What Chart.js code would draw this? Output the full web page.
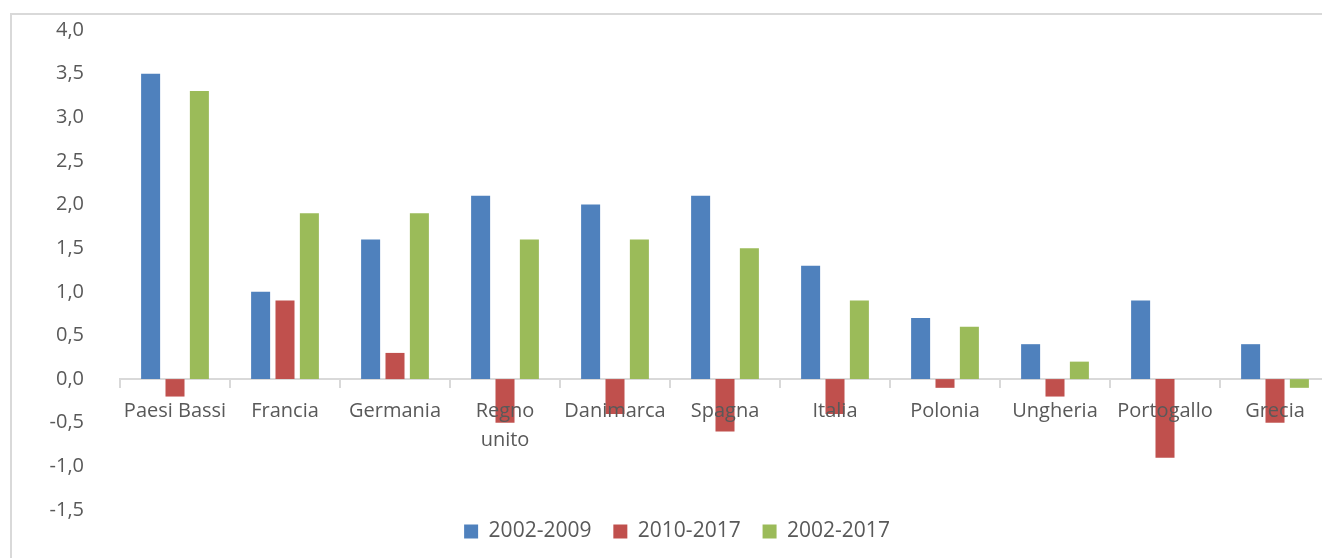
<!DOCTYPE html>
<html>
<head>
<meta charset="utf-8">
<script src="https://cdn.jsdelivr.net/npm/chart.js@4.4.1/dist/chart.umd.min.js"></script>
<style>
  html, body { margin: 0; padding: 0; background: #fff; overflow: hidden; }
  #wrap { position: relative; width: 1340px; height: 558px; }
  #frame { position: absolute; left: 10px; top: 13px; width: 1340px; height: 560px; border: 2px solid #d9d9d9; box-sizing: border-box; }
  canvas { position: absolute; left: 0; top: 0; }
</style>
</head>
<body>
<div id="wrap">
  <div id="frame"></div>
  <canvas id="chart" width="1340" height="558"></canvas>
</div>
<script>
// ===== Data =====
const countries = ['Paesi Bassi', 'Francia', 'Germania', ['Regno', 'unito'], 'Danimarca', 'Spagna', 'Italia', 'Polonia', 'Ungheria', 'Portogallo', 'Grecia'];
const seriesNames = ['2002-2009', '2010-2017', '2002-2017'];
const values2002to2009 = [3.5, 1.0, 1.6, 2.1, 2.0, 2.1, 1.3, 0.7, 0.4, 0.9, 0.4];
const values2010to2017 = [-0.2, 0.9, 0.3, -0.5, -0.4, -0.6, -0.4, -0.1, -0.2, -0.9, -0.5];
const values2002to2017 = [3.3, 1.9, 1.9, 1.6, 1.6, 1.5, 0.9, 0.6, 0.2, 0.0, -0.1];
const seriesColors = ['#4f81bd', '#c0504d', '#9bbb59'];

const textColor = '#595959';
const fontFamily = '"Open Sans", "Liberation Sans", sans-serif';

// ===== Chart =====
const datasets = [values2002to2009, values2010to2017, values2002to2017].map((data, index) => ({
  label: seriesNames[index],
  data,
  backgroundColor: seriesColors[index],
  borderWidth: 0,
  categoryPercentage: 0.665,
  barPercentage: 0.78,
}));

new Chart(document.getElementById('chart'), {
  type: 'bar',
  data: { labels: countries, datasets },
  options: {
    responsive: false,
    animation: false,
    layout: { padding: { left: 24, right: 10, top: 30, bottom: 6 } },
    plugins: {
      tooltip: { enabled: false },
      legend: {
        position: 'bottom',
        labels: {
          boxWidth: 14,
          boxHeight: 14,
          padding: 11,
          color: textColor,
          font: { family: fontFamily, size: 21 },
          // keep the legend tight under the plot, widen the gap between entries with spaces
          generateLabels: (chart) => {
            const items = Chart.defaults.plugins.legend.labels.generateLabels(chart);
            return items.map((item, index) => ({
              ...item,
              text: index < items.length - 1 ? item.text + '  ' : item.text,
            }));
          },
        },
      },
    },
    scales: {
      x: {
        position: { y: 0 },
        grid: {
          display: true,
          drawOnChartArea: false,
          drawTicks: true,
          tickLength: 8,
          offset: true,
          color: '#d9d9d9',
          lineWidth: 2,
        },
        border: { display: true, color: '#d9d9d9', width: 2 },
        ticks: {
          z: 1, // country names are written over the negative bars
          color: textColor,
          font: { family: fontFamily, size: 20, lineHeight: 1.45 },
          padding: 10,
          maxRotation: 0,
          autoSkip: false,
        },
        afterFit: (scale) => { scale.height = 0; },
      },
      y: {
        min: -1.5,
        max: 4,
        grid: { display: false },
        border: { display: false },
        ticks: {
          stepSize: 0.5,
          padding: 28,
          color: textColor,
          font: { family: fontFamily, size: 20 },
          callback: (value) => value.toFixed(1).replace('.', ','),
        },
        afterFit: (scale) => {
          scale.width = 96;
          scale.paddingTop = 0;
          scale.paddingBottom = 0;
        },
      },
    },
  },
});
</script>
</body>
</html>
